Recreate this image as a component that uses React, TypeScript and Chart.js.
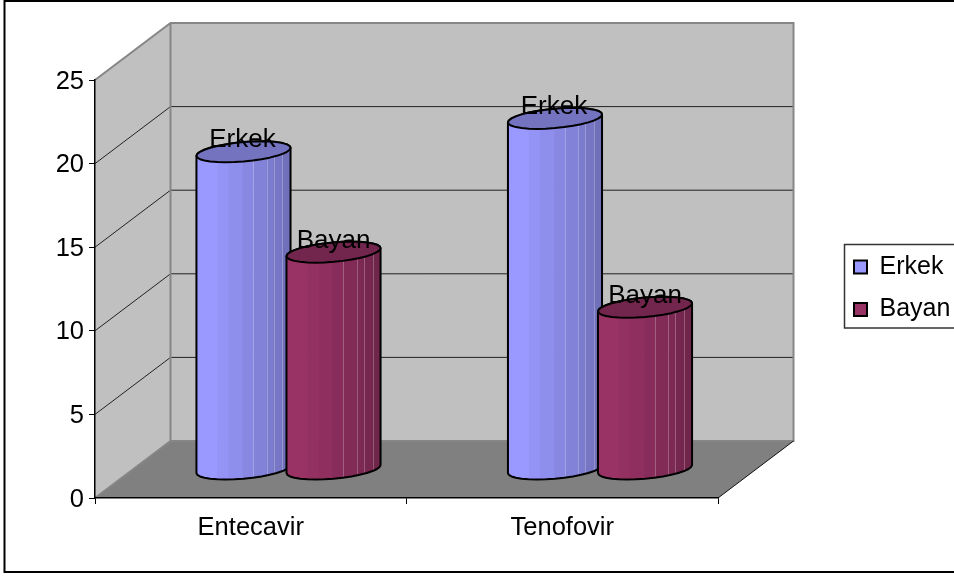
import React, { useEffect, useRef } from "react";
import { Chart, registerables } from "chart.js";

Chart.register(...registerables);

const categories = ["Entecavir", "Tenofovir"];
const erkekValues = [19, 21];
const bayanValues = [13, 9.7];
const seriesNames = ["Erkek", "Bayan"];
const seriesColors = ["#9999FF", "#993366"];
const yTicks = [0, 5, 10, 15, 20, 25];

const FONT = '"Liberation Sans", Arial, sans-serif';
const DX = 75.5;
const DY = -57;
const STRIPS = [0, 0.223, 0.34, 0.49, 0.606, 0.745, 0.82, 0.915, 1];
const SHADES = [1, 0.97, 0.93, 0.89, 0.85, 0.81, 0.77, 0.73];

function shade(hex: string, f: number) {
  const n = parseInt(hex.slice(1), 16);
  const r = Math.round(((n >> 16) & 255) * f);
  const g = Math.round(((n >> 8) & 255) * f);
  const b = Math.round((n & 255) * f);
  return `rgb(${r},${g},${b})`;
}

function ellipsePoint(cx: number, cy: number, R: number, deg: number) {
  const t = (deg * Math.PI) / 180;
  return [
    cx + 0.925 * R * Math.cos(t) + 0.383 * R * Math.sin(t),
    cy - 10.5 * Math.sin(t),
  ];
}

function drawCylinder(ctx: CanvasRenderingContext2D, cx: number, top: number, base: number, R: number, color: string) {
  const silhouette = () => {
    ctx.beginPath();
    for (let d = 202.5; d <= 382.5; d += 11.25) {
      const [x, y] = ellipsePoint(cx, base, R, d);
      if (d === 202.5) ctx.moveTo(x, y);
      else ctx.lineTo(x, y);
    }
    for (let d = 22.5; d <= 202.5; d += 11.25) {
      const [x, y] = ellipsePoint(cx, top, R, d);
      ctx.lineTo(x, y);
    }
    ctx.closePath();
  };
  ctx.save();
  silhouette();
  ctx.clip();
  const left = cx - R;
  const w = 2 * R;
  SHADES.forEach((f, i) => {
    ctx.fillStyle = shade(color, f);
    ctx.fillRect(left + STRIPS[i] * w, top - 20, (STRIPS[i + 1] - STRIPS[i]) * w + 0.5, base - top + 40);
  });
  ctx.strokeStyle = "rgba(255,255,255,0.25)";
  ctx.lineWidth = 1;
  [4, 5, 6, 7].forEach((i) => {
    const x = Math.round(left + STRIPS[i] * w) + 0.5;
    ctx.beginPath();
    ctx.moveTo(x, top - 20);
    ctx.lineTo(x, base + 20);
    ctx.stroke();
  });
  ctx.restore();

  ctx.lineJoin = "round";
  ctx.strokeStyle = "#000";
  ctx.lineWidth = 2;
  silhouette();
  ctx.stroke();
  ctx.beginPath();
  for (let d = 0; d < 360; d += 11.25) {
    const [x, y] = ellipsePoint(cx, top, R, d);
    if (d === 0) ctx.moveTo(x, y);
    else ctx.lineTo(x, y);
  }
  ctx.closePath();
  ctx.fillStyle = shade(color, 0.75);
  ctx.fill();
  ctx.stroke();
}

const scenePlugin = {
  id: "scene",
  afterLayout(chart: any) {
    const lg = chart.legend;
    const w = lg.width;
    const h = lg.height;
    lg.left = 836.5;
    lg.right = 836.5 + w;
    lg.top = 237;
    lg.bottom = 237 + h;
  },
  beforeDraw(chart: any) {
    const { ctx, chartArea: a, scales } = chart;
    const y = scales.y;
    ctx.save();
    ctx.fillStyle = "#FFFFFF";
    ctx.fillRect(0, 0, chart.width, chart.height);
    // outer frame
    ctx.strokeStyle = "#000";
    ctx.lineWidth = 2;
    ctx.strokeRect(4.5, 1, 970, 571);
    // legend frame
    ctx.strokeStyle = "#333";
    ctx.lineWidth = 1.5;
    ctx.strokeRect(844.5, 244.5, 130, 83.5);

    const L = a.left, R = a.right, T = a.top, B = a.bottom;
    // back wall
    ctx.fillStyle = "#C0C0C0";
    ctx.fillRect(L + DX, T + DY, R - L, B - T);
    // side wall
    ctx.beginPath();
    ctx.moveTo(L, T);
    ctx.lineTo(L + DX, T + DY);
    ctx.lineTo(L + DX, B + DY);
    ctx.lineTo(L, B);
    ctx.closePath();
    ctx.fill();
    // floor
    ctx.fillStyle = "#808080";
    ctx.beginPath();
    ctx.moveTo(L, B);
    ctx.lineTo(L + DX, B + DY);
    ctx.lineTo(R + DX, B + DY);
    ctx.lineTo(R, B);
    ctx.closePath();
    ctx.fill();
    // grid lines
    ctx.strokeStyle = "#222";
    ctx.lineWidth = 1;
    y.ticks.forEach((t: any) => {
      if (t.value === y.min || t.value === y.max) return;
      const py = y.getPixelForValue(t.value);
      ctx.beginPath();
      ctx.moveTo(L, py);
      ctx.lineTo(L + DX, py + DY);
      ctx.lineTo(R + DX, py + DY);
      ctx.stroke();
    });
    // wall edges
    ctx.strokeStyle = "#868686";
    ctx.lineWidth = 2;
    ctx.beginPath();
    ctx.moveTo(L, T);
    ctx.lineTo(L + DX, T + DY);
    ctx.lineTo(R + DX, T + DY);
    ctx.lineTo(R + DX, B + DY);
    ctx.lineTo(L + DX, B + DY);
    ctx.lineTo(L + DX, T + DY);
    ctx.moveTo(L, B);
    ctx.lineTo(L + DX, B + DY);
    ctx.stroke();
    ctx.strokeStyle = "#111";
    ctx.lineWidth = 1;
    ctx.beginPath();
    ctx.moveTo(R, B);
    ctx.lineTo(R + DX, B + DY);
    ctx.stroke();
    ctx.restore();
  },
  beforeDatasetsDraw(chart: any) {
    const { ctx } = chart;
    ctx.save();
    chart.data.datasets.forEach((ds: any, i: number) => {
      chart.getDatasetMeta(i).data.forEach((el: any) => {
        const R = (el.width / 2) * 1.044;
        drawCylinder(ctx, el.x + DX / 2, el.y + DY / 2, el.base + DY / 2, R, ds.backgroundColor);
      });
    });
    ctx.font = `26px ${FONT}`;
    ctx.fillStyle = "#000";
    ctx.textAlign = "center";
    ctx.textBaseline = "alphabetic";
    chart.data.datasets.forEach((ds: any, i: number) => {
      chart.getDatasetMeta(i).data.forEach((el: any) => {
        ctx.fillText(ds.label, el.x + DX / 2 - (i === 0 ? 1 : 0), el.y + DY / 2 - 4.5);
      });
    });
    ctx.restore();
    return false;
  },
};

export default function App() {
  const ref = useRef<HTMLCanvasElement>(null);
  useEffect(() => {
    const chart = new Chart(ref.current as HTMLCanvasElement, {
      type: "bar",
      data: {
        labels: categories,
        datasets: [
          { label: seriesNames[0], data: erkekValues, backgroundColor: seriesColors[0], borderColor: "#000", borderWidth: 2 },
          { label: seriesNames[1], data: bayanValues, backgroundColor: seriesColors[1], borderColor: "#000", borderWidth: 2 },
        ],
      },
      plugins: [scenePlugin],
      options: {
        animation: false,
        responsive: false,
        layout: { padding: { left: 8, top: 80, right: 236, bottom: 0 } },
        datasets: { bar: { categoryPercentage: 0.578, barPercentage: 1 } },
        plugins: {
          title: { display: false },
          tooltip: { enabled: false },
          legend: {
            position: "chartArea",
            align: "start",
            labels: {
              boxWidth: 13,
              boxHeight: 13,
              padding: 17.5,
              color: "#000",
              font: { family: FONT, size: 25 },
            },
          },
        },
        scales: {
          x: {
            afterFit(s: any) { s.height = 79; },
            border: { color: "#000", width: 1.5 },
            grid: { drawOnChartArea: false, tickLength: 6, tickColor: "#000" },
            ticks: { color: "#000", padding: 9, font: { family: FONT, size: 25.5 }, maxRotation: 0 },
          },
          y: {
            min: yTicks[0],
            max: yTicks[yTicks.length - 1],
            afterFit(s: any) { s.width = 87; },
            afterBuildTicks(s: any) { s.ticks = yTicks.map((value) => ({ value })); },
            border: { color: "#000", width: 1.5 },
            grid: { drawOnChartArea: false, tickLength: 6, tickColor: "#000" },
            ticks: { color: "#000", padding: 5, labelOffset: 1.5, font: { family: FONT, size: 25.5 } },
          },
        },
      },
    } as any);
    return () => chart.destroy();
  }, []);
  return (
    <canvas
      ref={ref}
      width={954}
      height={577}
      style={{ position: "absolute", left: 0, top: 0, width: 954, height: 577, display: "block" }}
    />
  );
}
